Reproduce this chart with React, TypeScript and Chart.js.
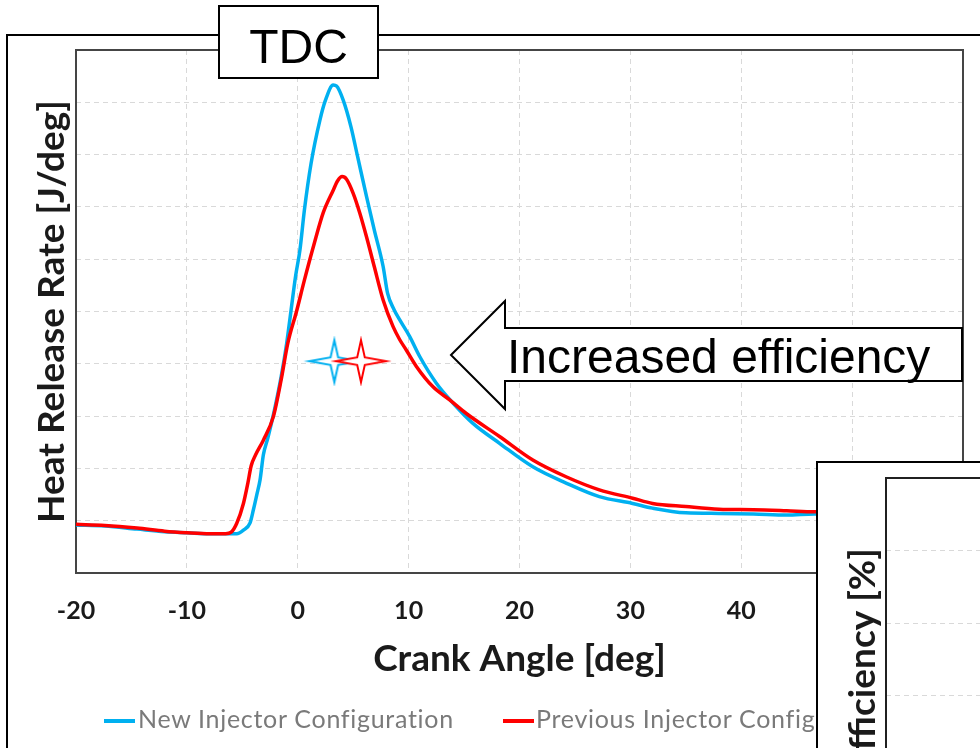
import React, { useEffect, useRef } from "react";
import { Chart, registerables } from "chart.js";

Chart.register(...registerables);

// ---- data ----
const seriesNames = ["New Injector Configuration", "Previous Injector Configuration"];
const seriesColors = ["#00B0F0", "#FF0000"];

const newAngle = [-20, -17.4, -14.5, -12, -10, -7.9, -5.5, -4.9, -4.3, -4.0, -3.7, -3.4, -3.1, -2.7, -2.1, -1.5, -1.0, -0.6, -0.2, 0.2, 0.6, 1.2, 2.0, 2.5, 3.2, 3.5, 4.1, 4.8, 5.4, 6.2, 6.9, 7.7, 8.1, 8.7, 9.2, 10.1, 11.0, 12.5, 14.0, 15.8, 18.2, 21.2, 24.2, 27.2, 30.2, 32.0, 35.0, 38.0, 41.1, 44.1, 46.6, 49.8, 54.3, 60];
const newHrr = [9.2, 9.0, 8.4, 7.9, 7.7, 7.5, 7.5, 8.2, 9.6, 12.1, 14.9, 17.8, 22.6, 25.8, 31.2, 37.5, 43.9, 50.3, 56.7, 61.8, 69.4, 78.3, 86.6, 90.4, 93.3, 93.1, 90.4, 85.3, 79.6, 72.0, 65.6, 58.6, 53.5, 50.3, 48.4, 45.2, 41.4, 36.3, 32.5, 28.6, 24.8, 20.3, 17.2, 14.6, 13.3, 12.4, 11.5, 11.4, 11.3, 11.1, 11.3, 11.2, 11.1, 11.1];

const prevAngle = [-20, -17.4, -14.5, -12, -10, -7.9, -6.5, -6, -5.5, -4.9, -4.5, -4.2, -3.8, -3.1, -2.2, -1.5, -0.9, -0.1, 0.6, 1.5, 2.3, 3.2, 3.6, 4.0, 4.4, 5.0, 5.6, 6.2, 6.9, 7.7, 8.6, 9.2, 9.8, 10.7, 12.2, 13.7, 15.2, 18.2, 21.2, 24.2, 27.2, 30.2, 32.0, 35.0, 38.0, 41.1, 44.1, 46.6, 49.8, 54.3, 60];
const prevHrr = [9.3, 9.1, 8.6, 8.0, 7.7, 7.5, 7.5, 7.8, 9.5, 13.3, 17.2, 20.5, 22.6, 25.4, 29.9, 36.9, 43.9, 50.1, 56.0, 63.1, 68.9, 73.2, 75.0, 75.8, 75.3, 72.6, 68.8, 64.3, 58.6, 52.2, 47.1, 44.6, 42.6, 39.5, 35.6, 33.1, 30.5, 26.1, 21.6, 18.4, 15.9, 14.3, 13.3, 12.7, 12.2, 12.1, 11.9, 11.7, 11.7, 11.6, 11.5];

// star markers (one per configuration)
const starAngleNew = [3.3];
const starAnglePrev = [5.7];
const starLevel = [40.5];

// axes
const xMin = -20;
const xMax = 60;
const xStep = 10;
const yMin = 0;
const yMax = 100;
const yStep = 10;
const xTitle = "Crank Angle [deg]";
const yTitle = "Heat Release Rate [J/deg]";
const insetTitle = "Efficiency [%]";
const tdcLabel = "TDC";
const arrowLabel = "Increased efficiency";

const zip = (xs: number[], ys: number[]) => xs.map((x, i) => ({ x, y: ys[i] }));

function makeStar(color: string): HTMLCanvasElement {
  const c = document.createElement("canvas");
  c.width = 62;
  c.height = 50;
  const g = c.getContext("2d")!;
  const cx = 31, cy = 25, rx = 25, ry = 21, ri = 3.8;
  g.beginPath();
  g.moveTo(cx + rx, cy);
  g.lineTo(cx + ri, cy - ri);
  g.lineTo(cx, cy - ry);
  g.lineTo(cx - ri, cy - ri);
  g.lineTo(cx - rx, cy);
  g.lineTo(cx - ri, cy + ri);
  g.lineTo(cx, cy + ry);
  g.lineTo(cx + ri, cy + ri);
  g.closePath();
  g.fillStyle = "#ffffff";
  g.fill();
  g.strokeStyle = color;
  g.lineWidth = 2;
  g.stroke();
  return c;
}

const frameAreaPlugin = {
  id: "frameArea",
  beforeDatasetsDraw(chart: any, _args: any, opts: any) {
    const { ctx, chartArea: a } = chart;
    ctx.save();
    ctx.strokeStyle = opts.color || "#404040";
    ctx.lineWidth = opts.width || 2;
    ctx.strokeRect(a.left, a.top, a.right - a.left, a.bottom - a.top);
    ctx.restore();
  },
};

const gridGray = "#d9d9d9";
const textDark = "#1a1a1a";

export default function App() {
  const mainRef = useRef<HTMLCanvasElement>(null);
  const insetRef = useRef<HTMLCanvasElement>(null);

  useEffect(() => {
    const blueStar = makeStar(seriesColors[0]);
    const redStar = makeStar(seriesColors[1]);

    const main = new Chart(mainRef.current!, {
      type: "scatter",
      data: {
        datasets: [
          {
            label: seriesNames[1] + " marker",
            data: zip(starAnglePrev, starLevel),
            pointStyle: redStar as any,
            pointRadius: 12,
            showLine: false,
          },
          {
            label: seriesNames[0] + " marker",
            data: zip(starAngleNew, starLevel),
            pointStyle: blueStar as any,
            pointRadius: 12,
            showLine: false,
          },
          {
            label: seriesNames[1],
            data: zip(prevAngle, prevHrr),
            showLine: true,
            borderColor: seriesColors[1],
            backgroundColor: seriesColors[1],
            borderWidth: 3.5,
            pointRadius: 0,
            cubicInterpolationMode: "monotone",
          },
          {
            label: seriesNames[0],
            data: zip(newAngle, newHrr),
            showLine: true,
            borderColor: seriesColors[0],
            backgroundColor: seriesColors[0],
            borderWidth: 3.5,
            pointRadius: 0,
            cubicInterpolationMode: "monotone",
          },
        ],
      },
      options: {
        responsive: false,
        animation: false,
        events: [],
        layout: { padding: { top: 50, right: 17, left: 0, bottom: 0 } },
        plugins: {
          legend: { display: false },
          tooltip: { enabled: false },
          frameArea: { color: "#454545", width: 2 },
        } as any,
        scales: {
          x: {
            type: "linear",
            min: xMin,
            max: xMax,
            ticks: {
              stepSize: xStep,
              color: textDark,
              font: { family: "Lato", weight: "bold", size: 25 },
              padding: 23,
              maxRotation: 0,
            },
            grid: { color: gridGray, lineWidth: 1, drawTicks: false },
            border: { display: false, dash: [5, 4] },
            title: {
              display: true,
              text: xTitle,
              color: textDark,
              font: { family: "Lato", weight: "bold", size: 37 },
              padding: { top: 0, bottom: 9 },
            },
            afterFit: (s: any) => {
              s.height = 690 - 573;
              s.paddingLeft = 0;
              s.paddingRight = 0;
            },
          },
          y: {
            type: "linear",
            min: yMin,
            max: yMax,
            ticks: { stepSize: yStep, display: false },
            grid: { color: gridGray, lineWidth: 1, drawTicks: false },
            border: { display: false, dash: [5, 4] },
            title: {
              display: true,
              text: yTitle,
              color: textDark,
              font: { family: "Lato", weight: "bold", size: 37 },
              padding: { top: 30, bottom: 0 },
            },
            afterFit: (s: any) => {
              s.width = 76;
              s.paddingTop = 0;
              s.paddingBottom = 0;
            },
          },
        },
      },
      plugins: [frameAreaPlugin],
    });

    const inset = new Chart(insetRef.current!, {
      type: "bar",
      data: { labels: [], datasets: [] },
      options: {
        responsive: false,
        animation: false,
        events: [],
        layout: { padding: { top: 15, right: 0, left: 0, bottom: 0 } },
        plugins: {
          legend: { display: false },
          tooltip: { enabled: false },
          frameArea: { color: "#202020", width: 2 },
        } as any,
        scales: {
          x: { display: false },
          y: {
            min: 0,
            max: 5,
            ticks: { stepSize: 1, display: false },
            grid: { color: gridGray, lineWidth: 1, drawTicks: false },
            border: { display: false, dash: [5, 4] },
            title: {
              display: true,
              text: insetTitle,
              color: textDark,
              font: { family: "Lato", weight: "bold", size: 37 },
              padding: { top: 23, bottom: 0 },
            },
            afterFit: (s: any) => {
              s.width = 68;
            },
          },
        },
      },
      plugins: [frameAreaPlugin],
    });

    return () => {
      main.destroy();
      inset.destroy();
    };
  }, []);

  const arial = '"Liberation Sans", Arial, sans-serif';
  const legendFont = { fontFamily: "Lato", fontSize: 25, letterSpacing: "0.7px", color: "#7a7a7a", lineHeight: "normal" as const };

  return (
    <div style={{ position: "fixed", left: 0, top: 0, width: 980, height: 748, overflow: "hidden", background: "#fff" }}>
      {/* outer frame */}
      <div style={{ position: "absolute", left: 6, top: 34, width: 1100, height: 900, borderLeft: "2px solid #000", borderTop: "2px solid #000" }} />
      <canvas ref={mainRef} width={980} height={690} style={{ position: "absolute", left: 0, top: 0 }} />

      {/* arrow annotation */}
      <svg width={980} height={748} style={{ position: "absolute", left: 0, top: 0 }}>
        <polygon
          points="451,355 505,301 505,328 962,328 962,381 505,381 505,409"
          fill="#fff"
          stroke="#000"
          strokeWidth={2}
        />
      </svg>
      <div style={{ position: "absolute", left: 507, top: 328.6, fontFamily: arial, fontSize: 48, lineHeight: "normal", color: "#000", whiteSpace: "nowrap" }}>
        {arrowLabel}
      </div>

      {/* TDC box */}
      <div style={{ position: "absolute", left: 218, top: 5, width: 161, height: 74, boxSizing: "border-box", border: "2px solid #000", background: "#fff" }} />
      <div style={{ position: "absolute", left: 218, top: 18.6, width: 161, textAlign: "center", fontFamily: arial, fontSize: 48, lineHeight: "normal", color: "#000" }}>
        {tdcLabel}
      </div>

      {/* legend */}
      <div style={{ position: "absolute", left: 104, top: 719, width: 31, height: 4, background: seriesColors[0] }} />
      <div style={{ position: "absolute", left: 138, top: 703.3, whiteSpace: "nowrap", ...legendFont }}>{seriesNames[0]}</div>
      <div style={{ position: "absolute", left: 503, top: 719, width: 31, height: 4, background: seriesColors[1] }} />
      <div style={{ position: "absolute", left: 536, top: 703.3, whiteSpace: "nowrap", ...legendFont }}>{seriesNames[1]}</div>

      {/* inset chart (partially visible) */}
      <div style={{ position: "absolute", left: 816, top: 461, width: 400, height: 500, borderLeft: "2px solid #000", borderTop: "2px solid #000", background: "#fff", overflow: "hidden" }}>
        <canvas ref={insetRef} width={300} height={378} style={{ position: "absolute", left: 0, top: 0 }} />
      </div>
    </div>
  );
}
